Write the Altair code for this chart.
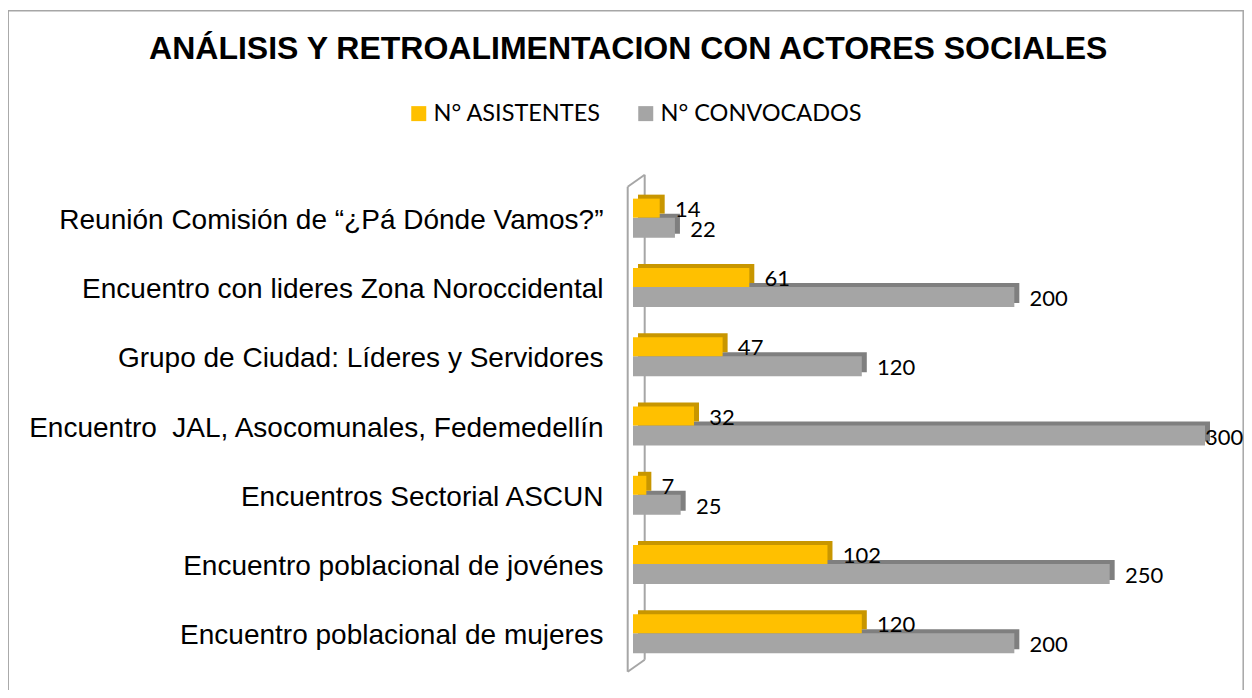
import altair as alt
import pandas as pd

categorias = [
    "Reunión Comisión de “¿Pá Dónde Vamos?”",
    "Encuentro con lideres Zona Noroccidental ",
    "Grupo de Ciudad: Líderes y Servidores",
    "Encuentro \u00a0JAL, Asocomunales, Fedemedellín",
    "Encuentros Sectorial ASCUN",
    "Encuentro poblacional de jovénes ",
    "Encuentro poblacional de mujeres ",
]
asistentes = [14, 61, 47, 32, 7, 102, 120]
convocados = [22, 200, 120, 300, 25, 250, 200]
series = ["N° ASISTENTES", "N° CONVOCADOS"]
colores = ["#FFC000", "#A5A5A5"]
sombras = ["#C89600", "#7F7F7F"]
titulo = "ANÁLISIS Y RETROALIMENTACION CON ACTORES SOCIALES"

rows = []
for c, a, v in zip(categorias, asistentes, convocados):
    rows.append({"categoria": c, "serie": series[0], "valor": a})
    rows.append({"categoria": c, "serie": series[1], "valor": v})
df = pd.DataFrame(rows)
one = pd.DataFrame({"k": [0]})

W, H = 572, 485
xscale = alt.Scale(domain=[0, 300], nice=False, clamp=True, zero=True)
X = alt.X("valor:Q", scale=xscale, axis=None)
Y = alt.Y(
    "categoria:N",
    sort=categorias,
    scale=alt.Scale(domain=categorias, paddingInner=0, paddingOuter=0),
    axis=alt.Axis(
        title=None, domain=False, ticks=False, grid=False,
        labelFont="Liberation Sans", labelFontSize=28, labelColor="black",
        labelPadding=30, labelLimit=800, labelOffset=3,
    ),
)
COLOR = alt.Color(
    "serie:N",
    scale=alt.Scale(domain=series, range=colores),
    legend=alt.Legend(
        orient="none", legendX=-226, legendY=-81.5, direction="horizontal",
        title=None, symbolType="square", symbolSize=225, symbolStrokeWidth=0,
        symbolOpacity=1, labelFont="Lato", labelFontSize=23.5, labelColor="black",
        labelOffset=3, labelLimit=400, columnPadding=33, padding=0,
    ),
)

base = alt.Chart(df)
asis = base.transform_filter(alt.datum.serie == series[0])
conv = base.transform_filter(alt.datum.serie == series[1])

borde = alt.Chart(one).mark_rect(fillOpacity=0, stroke="#A6A6A6", strokeWidth=1.5).encode(
    x=alt.value(-624.8), x2=alt.value(610.2), y=alt.value(-172.3), y2=alt.value(520)
)
pared_fondo = alt.Chart(one).mark_rule(color="#A6A6A6", strokeWidth=2).encode(
    x=alt.value(11.7), y=alt.value(-8.3), y2=alt.value(476.7)
)
pared_frente = alt.Chart(one).mark_rule(color="#A6A6A6", strokeWidth=2).encode(
    x=alt.value(-5.3), y=alt.value(3.7), y2=alt.value(488.7)
)
pared_sup = alt.Chart(one).mark_rule(color="#A6A6A6", strokeWidth=2).encode(
    x=alt.value(-5.3), x2=alt.value(11.7), y=alt.value(3.7), y2=alt.value(-8.3)
)
pared_inf = alt.Chart(one).mark_rule(color="#A6A6A6", strokeWidth=2).encode(
    x=alt.value(-5.3), x2=alt.value(11.7), y=alt.value(488.7), y2=alt.value(476.7)
)

conv_sombra = conv.mark_bar(height=20, yOffset=6, xOffset=5, color=sombras[1]).encode(x=X, y=Y)
conv_frente = conv.mark_bar(height=20, yOffset=10).encode(x=X, y=Y, color=COLOR)
asis_sombra = asis.mark_bar(height=19, yOffset=-13.5, xOffset=5, color=sombras[0]).encode(x=X, y=Y)
asis_frente = asis.mark_bar(height=19, yOffset=-9.5).encode(x=X, y=Y, color=COLOR)

XL = alt.X("pos:Q", scale=xscale, axis=None)
asis_txt = asis.transform_calculate(pos="datum.valor + 8").mark_text(
    align="left", baseline="middle", font="Lato", fontSize=22, color="black", yOffset=-8
).encode(x=XL, y=Y, text="valor:Q")
conv_txt = conv.transform_calculate(pos="datum.valor + 8").mark_text(
    align="left", baseline="middle", font="Lato", fontSize=22, color="black", yOffset=12
).encode(x=XL, y=Y, text="valor:Q")

tit = alt.Chart(one).mark_text(
    text=titulo, font="Liberation Sans", fontSize=32, fontWeight="bold",
    align="center", baseline="alphabetic", color="black",
).encode(x=alt.value(-4.8), y=alt.value(-124.3))

chart = alt.layer(
    borde, pared_fondo, conv_sombra, conv_frente, asis_sombra, asis_frente,
    pared_frente, pared_sup, pared_inf, asis_txt, conv_txt, tit,
).properties(
    width=W, height=H,
    background="white",
    autosize=alt.AutoSizeParams(type="none"),
    padding={"left": 625, "top": 175, "right": 39, "bottom": 22},
).configure_view(strokeWidth=0)

chart.save("out.html", embed_options={"renderer": "svg", "actions": False})
